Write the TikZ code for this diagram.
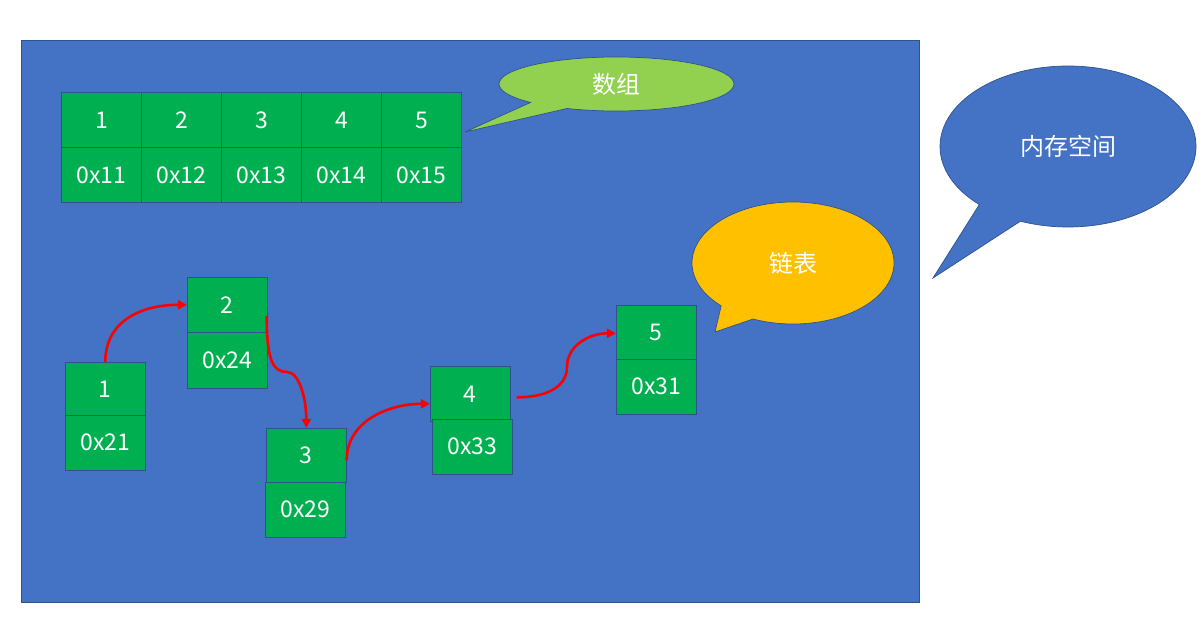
\documentclass[tikz,border=0pt]{standalone}
\usepackage{fontspec}
\newfontfamily\cjk{Noto Sans CJK SC}
\usetikzlibrary{shapes.callouts,shapes.geometric,arrows.meta}
\definecolor{bgblue}{HTML}{4472C4}
\definecolor{edgeblue}{HTML}{2F528F}
\definecolor{cellgreen}{HTML}{00B050}
\definecolor{callgreen}{HTML}{92D050}
\definecolor{callorange}{HTML}{FFC000}
\definecolor{linkred}{HTML}{FF0000}
\tikzset{
  cell/.style={draw=edgeblue, fill=cellgreen, line width=0.8pt, minimum width=80pt,
    minimum height=55pt, inner sep=0pt, text=white, font=\cjk\fontsize{23}{23}\selectfont},
  bubble/.style={ellipse callout, draw=edgeblue, line width=0.7pt, inner sep=0pt,
    callout pointer arc=22, text=white, font=\cjk\fontsize{24}{24}\selectfont},
  link/.style={draw=linkred, line width=2.6pt, -{Triangle[length=9pt,width=9pt]}},
}
\begin{document}
\begin{tikzpicture}[x=1pt,y=-1pt]
\useasboundingbox (0,0) rectangle (1199,634);
\fill[white] (0,0) rectangle (1199,634);
% memory area
\node[draw=edgeblue, fill=bgblue, line width=0.8pt, minimum width=898pt, minimum height=562pt, inner sep=0pt] (mem) at (470,321) {};
% array
\foreach \v [count=\i from 0] in {1,2,3,4,5} {
  \node[cell] (at\v) at ({101.5+80*\i},120) {\v};
  \node[cell] (ab\v) at ({101.5+80*\i},175) {0x1\v};
}
% linked list nodes
\node[cell, minimum height=53pt] (l1a) at (105.3,388.8) {1};
\node[cell, minimum height=54.7pt] (l1b) at (105.3,442.7) {0x21};
\node[cell] (l2a) at (227.3,304.8) {2};
\node[cell, minimum height=55.7pt] (l2b) at (227.3,360.2) {0x24};
\node[cell, minimum height=54pt] (l3a) at (306.3,455.3) {3};
\node[cell, minimum height=54.7pt] (l3b) at (305.3,509.7) {0x29};
\node[cell, minimum height=54.3pt] (l4a) at (470.3,393.8) {4};
\node[cell, minimum height=54.7pt] (l4b) at (472.3,446.7) {0x33};
\node[cell, minimum height=54pt] (l5a) at (656.3,332.3) {5};
\node[cell, minimum height=54.7pt] (l5b) at (656.3,386.7) {0x31};
% links
\draw[link] (l1a.north) .. controls +(0,-40) and +(-47,0) .. (l2a.west);
\draw[link] ([yshift=-11pt,xshift=-1pt]l2a.east) .. controls +(0,45) and +(-14,0) .. (287,372)
  .. controls +(12,0) and +(0,-30) .. (l3a.north);
\draw[link] ([yshift=-5pt]l3a.east) .. controls +(0,-40) and +(-40,0) .. ([yshift=-10pt]l4a.west);
\draw[link] ([xshift=6pt,yshift=-3.5pt]l4a.east) .. controls +(33,0) and +(0,18) .. (567,367)
  .. controls +(0,-22) and +(-26,0) .. ([yshift=-1pt]l5a.west);
% callouts
\node[bubble, fill=callgreen, minimum width=235pt, minimum height=54pt,
  callout absolute pointer={(465,132)}] (arrcall) at (616.5,84) {数组};
\node[bubble, fill=callorange, minimum width=202pt, minimum height=122pt,
  callout absolute pointer={(715,332)}] (listcall) at (793,263) {链表};
\node[bubble, fill=bgblue, minimum width=256pt, minimum height=161pt,
  callout absolute pointer={(933,278)}] (memcall) at (1068,146.5) {内存空间};
\end{tikzpicture}
\end{document}
